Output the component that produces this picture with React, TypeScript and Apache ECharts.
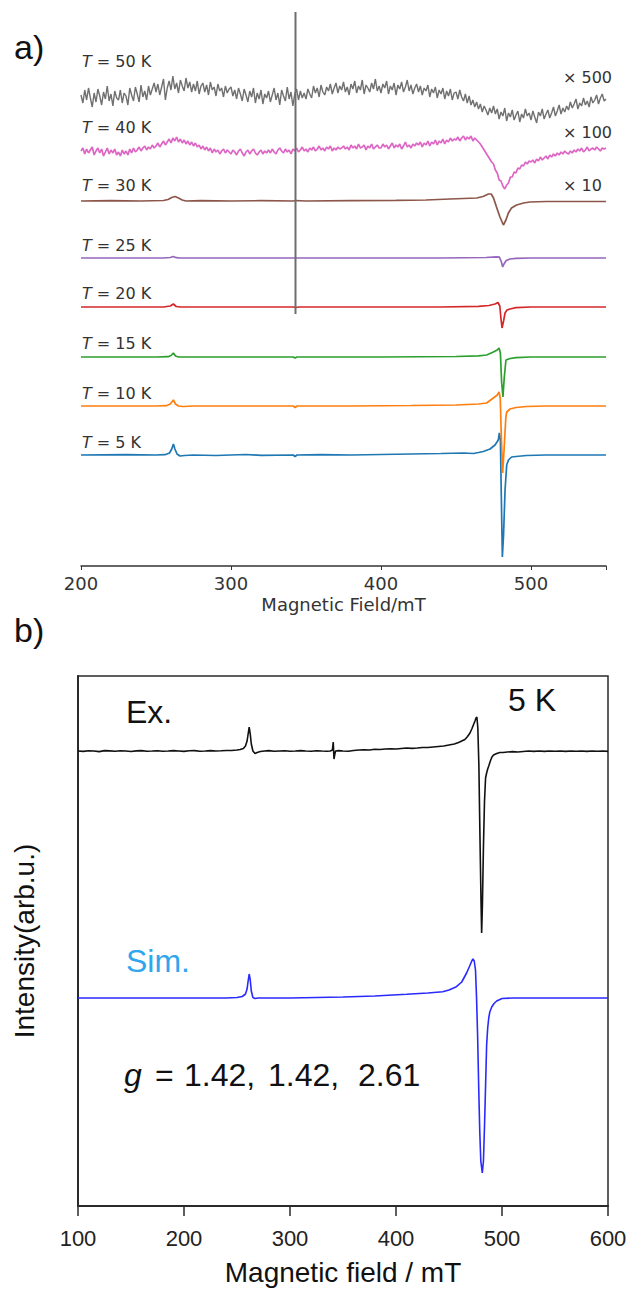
import React, { useEffect, useRef } from "react";
import * as echarts from "echarts";

const W = 631;
const H = 1291;

// ---------- Panel a: variable-temperature spectra ----------
const tempsK = [5, 10, 15, 20, 25, 30, 40, 50];
const colorsA = ["#1f77b4", "#ff7f0e", "#2ca02c", "#d62728", "#9467bd", "#8c564b", "#dd66c4", "#707070"];
const baselineA = [111, 160, 209, 259, 308, 365, 416, 469];
const gainLabels = ["", "", "", "", "", "× 10", "× 100", "× 500"];
const fieldTicksA = [200, 300, 400, 500];

// [field mT, signal relative to baseline]
const trace5K = [[200,0],[230,0.3],[250,0],[256,0.3],[259,2],[260.5,6],[261.6,11],[262.6,6],[264,1],[266,-1],[269,-0.5],[275,0],[290,-0.5],[300,0],[310,0.5],[320,-0.3],[341.5,0],[342.7,-1.5],[344,0],[360,0.3],[380,0],[400,0.5],[420,1],[440,1.5],[455,2],[461.6,1.5],[465,2.5],[468.2,3.5],[472.7,6],[476,10],[478.2,15],[478.9,22],[479.6,15],[480.2,-40],[480.9,-102],[481.7,-80],[482.7,-35],[483.8,-10],[485,-5],[487.1,-2],[490,-1.5],[497,-0.5],[510,0],[530,0],[550,0]];
const trace10K = [[200,0],[250,0],[257,0.3],[259.5,2],[261.6,6],[263,2],[265,0],[268,-0.5],[275,0],[300,0],[320,0],[341.5,0],[342.7,-1.5],[344,0],[380,0],[420,0.5],[450,1],[465,2],[470.4,3],[474.9,8],[477.5,11],[478.7,14],[479.5,8],[480.2,-30],[481.1,-67],[482,-45],[483.2,-12],[483.8,-6],[486,-3],[490,-1.5],[497,-0.5],[510,0],[550,0]];
const trace15K = [[200,0],[250,0],[258,0.3],[260,1.5],[261.6,4],[263,1],[265,0],[275,0],[341.5,0],[342.7,-1],[344,0],[400,0],[450,0.5],[465,1.2],[470.4,2],[474.9,5],[477.5,7],[478.7,9],[479.6,4],[480.4,-25],[481.3,-40],[482.2,-20],[483.3,-3],[486,-1.5],[490,-0.7],[500,0],[550,0]];
const trace20K = [[200,0],[255,0],[259.5,1],[261.6,3],[263.5,0.5],[266,0],[341.5,0],[343,-0.5],[345,0],[440,0],[465,0.7],[472,1.5],[476,3],[478,4.5],[479.2,1],[480,-12],[480.7,-21],[481.7,-14],[482.7,-6],[484,-3],[486,-2],[490,-0.7],[500,0],[550,0]];
const trace25K = [[200,0],[255,0],[259.5,0.5],[261.6,1.5],[263.5,0.3],[266,0],[440,0],[470,0.5],[477,1.2],[479,0.8],[480.3,-4],[481.1,-9],[482,-6],[483.5,-2.5],[486,-1],[490,-0.3],[500,0],[550,0]];
const trace30K = [[200,0],[220,0.3],[240,0],[255,0.5],[258,1.5],[260.5,3.5],[262.7,4.5],[265,3],[267.5,1],[270,0],[280,0.3],[300,0],[320,0.3],[341.5,0],[343,0.5],[350,0],[380,0.3],[410,0.7],[430,1],[446,2],[455,2.5],[463.8,3],[468,4.5],[471.6,7],[473.5,7],[475,3],[477,-6],[479.3,-16],[481.6,-24],[483.3,-19],[484.9,-12],[487,-7],[490.4,-4],[495,-2],[499.3,-1],[510,-0.5],[530,-0.5],[550,-0.5]];

// noisy traces sampled every 1.25 mT from 200 mT (rows of 25 mT)
const noisyStart = 200;
const noisyStep = 1.25;
const trace40K = [
  -1, 2, -4, 1, -3, 0, 3, -5, -1, 2, -3, 1, -6, -2, 2, -4, 0, -3, 1, -5,
  -2, -6, 0, -4, -1, -5, 1, -3, 2, -2, 0, 3, -1, 2, 4, 0, 3, 1, 5, 2,
  4, 7, 3, 6, 9, 5, 8, 11, 7, 12, 9, 13, 8, 11, 7, 10, 6, 9, 5, 8,
  4, 7, 3, 5, 1, 4, 0, 3, -1, 2, -3, 1, -2, 0, -4, -1, 1, -3, 0, -2,
  -4, 0, -2, -5, -1, 1, -3, -6, -2, 0, -4, -1, 1, -3, -5, -2, 0, -4, -1, -3,
  0, -3, 1, -2, -4, 0, 2, -1, -3, 1, -2, 0, -4, 1, -1, 2, -2, 0, 3, -1,
  1, -2, 2, 0, 3, -1, 1, 4, 0, 2, -1, 3, 1, 4, -1, 2, 0, 3, 1, 2,
  4, 1, 3, 0, 5, 2, 4, 1, 6, 2, 3, 5, 0, 4, 2, 6, 1, 3, 5, 2,
  2, 6, 3, 5, 1, 4, 7, 2, 5, 3, 6, 1, 4, 8, 3, 5, 2, 6, 4, 7,
  5, 8, 3, 7, 5, 9, 4, 8, 6, 10, 5, 9, 7, 11, 6, 10, 8, 12, 9, 11,
  10, 13, 9, 12, 14, 10, 13, 11, 14, 9, 12, 10, 8, 6, 3, 0, -3, -6, -9, -12,
  -14, -20, -23, -30, -31, -36, -39, -35, -33, -27, -27, -22, -23, -18, -19, -15, -16, -12, -14, -11,
  -12, -10, -13, -9, -11, -7, -10, -8, -6, -9, -5, -7, -4, -6, -3, -5, -2, -4, -1, -3,
  -4, -1, -3, 0, -2, 1, -1, 2, -2, 0, 3, -1, 1, 2, 0, 3, 1, -1, 2, 1,
  2,
];
const trace50K = [
  2, -6, 7, -3, 9, -1, -10, 4, -5, 8, 1, -8, 5, -2, 11, -4, 3, -9, 6, -1,
  -3, 7, -6, 4, 1, -8, 9, 2, -4, 10, 3, -5, 12, 0, 6, -3, 11, 2, 8, 14,
  5, 13, 2, 10, 18, -3, 9, 16, 7, 21, 8, 14, 4, 17, 11, 6, 19, 9, 15, 5,
  13, 6, 16, 3, 11, 14, 5, 12, 2, 15, 7, 10, 1, 13, 6, 9, 0, 11, 4, 8,
  10, 1, 7, -2, 9, 3, -4, 8, 2, -5, 6, 0, 9, -6, 4, -2, 7, -7, 3, -1,
  6, -5, 2, 9, -3, 4, -8, 7, 1, -4, 10, -2, 5, -9, 3, 8, -3, 6, -1, 4,
  -2, 8, 3, -1, 11, 4, 9, 0, 12, 5, 2, 10, 6, 13, 3, 9, 14, 4, 11, 7,
  15, 5, 10, 2, 13, 8, 16, 4, 11, 7, 17, 3, 12, 9, 5, 14, 8, 18, 6, 11,
  4, 13, 9, 16, 3, 11, 7, 14, 2, 12, 8, 15, 5, 10, 17, 6, 12, 3, 9, 13,
  5, 11, 2, 9, 6, 12, 0, 8, 4, 10, -1, 7, 3, 9, -2, 6, 1, 8, -3, 4,
  5, -2, 7, 0, -4, 3, -6, 1, -8, -3, -10, -5, -12, -7, -15, -9, -13, -18, -11, -16,
  -9, -17, -12, -22, -15, -19, -11, -24, -16, -20, -13, -23, -18, -14, -25, -17, -21, -12, -19, -16,
  -23, -14, -20, -26, -15, -19, -12, -22, -17, -13, -21, -16, -10, -19, -14, -8, -17, -11, -15, -9,
  -13, -5, -11, -7, -2, -12, -6, -9, -1, -8, -4, -10, 0, -6, -3, 2, -7, -1, 3, -4,
  -2,
];
const artifactFieldA = 343;
const artifactRangeA = [252, 554];

// ---------- Panel b: 5 K experiment vs simulation ----------
const fieldTicksB = [100, 200, 300, 400, 500, 600];
const exSpectrum = [[100,455],[105,454.6],[110,455.3],[115,455],[120,454.4],[125,455.4],[130,455.1],[135,454.7],[140,455.2],[145,455],[150,454.5],[155,455.1],[160,455.4],[165,454.8],[170,455],[175,455.3],[180,454.7],[185,455],[190,455.4],[195,455],[200,454.6],[205,455.2],[210,455.4],[215,454.8],[220,455],[225,455.4],[230,455],[235,455.2],[240,455.5],[245,455.5],[250,456],[253,456.5],[256,457.5],[258,460],[259.5,465],[260.5,472],[261.5,479],[262.5,472],[263.5,462],[265,455],[267,452.5],[269,453.5],[272,454.5],[276,455],[280,455.4],[285,454.7],[290,455],[295,455.3],[300,454.7],[305,455],[310,455.4],[315,455],[320,454.7],[325,455.3],[330,455],[335,454.8],[338,455],[340,456],[340.8,464],[341.5,447],[342.3,452],[343,455],[346,455.4],[350,455],[355,454.8],[360,455.5],[365,456],[370,456.3],[375,456],[380,456.8],[385,456.5],[390,457],[395,457.3],[400,457],[405,457.5],[410,458],[415,457.6],[420,458],[425,458.5],[430,458.5],[435,459],[440,459.5],[445,460],[450,461],[455,462],[459,463.5],[462,465],[465,466.5],[467.5,469.5],[469.8,473],[471.5,477],[473,481],[474.5,485],[475.5,488],[476.3,489],[477.2,478],[478.2,440],[479.2,370],[480.2,305],[480.8,273],[481.5,300],[482.5,360],[483.5,405],[484.5,428],[485.5,433],[486.5,437],[487.5,440],[489,445],[490.5,449],[492,451],[495,452.5],[498,453.5],[501,453.5],[505,454],[510,454.4],[515,454],[520,454.5],[525,455],[530,454.6],[535,455],[540,454.6],[545,455],[550,454.7],[555,455],[560,454.6],[565,455],[570,454.7],[575,455],[580,454.6],[585,455],[590,454.7],[595,455],[600,454.6]];
const simSpectrum = [[100,208],[150,208],[200,208],[240,208],[250,208.5],[255,209.5],[258,212],[259.5,217],[260.5,225],[261.5,232],[262.5,226],[263.5,215],[265,208.5],[267,207.5],[270,208],[300,208],[350,209],[380,210],[410,211.7],[430,213],[444,214.3],[450,216],[457,219.3],[462,224],[466.6,233],[469.5,240],[471.5,245],[472.6,247],[473.8,245],[475,236],[476,208],[477,170],[478,120],[479,75],[480,45],[481.4,33],[482.5,45],[483.5,80],[484.5,120],[485.5,161],[486.5,178],[487.5,188],[488.5,194],[490.3,199],[492.5,202.5],[495,205],[500,207.5],[510,208],[550,208],[600,208]];

const FA = "'DejaVu Sans', Verdana, sans-serif";
const FB = "'Liberation Sans', Arial, Helvetica, sans-serif";

function txt(x: number, y: number, text: string, size: number, family: string, fill: string, extra: any = {}) {
  return {
    type: "text",
    x,
    y,
    silent: true,
    style: {
      text,
      fill,
      fontSize: size,
      fontFamily: family,
      align: "left",
      verticalAlign: "middle",
      ...extra,
    },
  };
}

export default function App() {
  const ref = useRef<HTMLDivElement>(null);

  useEffect(() => {
    document.body.style.margin = "0";
    if (!ref.current) return;
    const chart = echarts.init(ref.current, undefined, { renderer: "svg", width: W, height: H });

    const sharpA = [trace5K, trace10K, trace15K, trace20K, trace25K, trace30K];
    const noisyA = [trace40K, trace50K];
    const widthsA = [1.7, 1.7, 1.7, 1.7, 1.7, 1.7, 1.7, 1.4];

    const seriesA = tempsK.map((t, i) => {
      let pts: number[][];
      if (i < sharpA.length) {
        pts = sharpA[i].map(([b, d]) => [b, baselineA[i] + d]);
      } else {
        pts = noisyA[i - sharpA.length].map((v, j) => [noisyStart + j * noisyStep, baselineA[i] + v]);
      }
      return {
        type: "line",
        name: `T = ${t} K`,
        xAxisIndex: 0,
        yAxisIndex: 0,
        data: pts,
        symbol: "none",
        silent: true,
        lineStyle: { color: colorsA[i], width: widthsA[i] },
      };
    });

    const artifactSeries = {
      type: "line",
      xAxisIndex: 0,
      yAxisIndex: 0,
      data: [[artifactFieldA, artifactRangeA[0]], [artifactFieldA, artifactRangeA[1]]],
      symbol: "none",
      silent: true,
      lineStyle: { color: "#6e6e6e", width: 2 },
    };

    const labelYA = [442, 393, 343, 293, 245, 185, 127, 61];
    const gainYA = [0, 0, 0, 0, 0, 185, 132, 77];

    const graphics: any[] = [];
    graphics.push(txt(14, 47, "a)", 34, FB, "#111"));
    graphics.push(txt(14, 630, "b)", 34, FB, "#111"));
    tempsK.forEach((t, i) => {
      graphics.push(
        txt(82, labelYA[i], `{i|T} = ${t} K`, 16, FA, "#333", {
          rich: { i: { fontStyle: "italic", fontSize: 16, fontFamily: FA, fill: "#333" } },
        })
      );
      if (gainLabels[i]) graphics.push(txt(563, gainYA[i], gainLabels[i], 16, FA, "#333"));
    });
    graphics.push(txt(126, 712, "Ex.", 32, FB, "#111"));
    graphics.push(txt(508, 700, "5 K", 32, FB, "#111"));
    graphics.push(txt(126, 961, "Sim.", 32, FB, "#2fa6ee"));
    graphics.push(txt(124, 1075, "g", 32, FB, "#111", { fontStyle: "italic" }));
    graphics.push(txt(155, 1075, "=", 32, FB, "#111"));
    graphics.push(txt(184, 1075, "1.42,", 32, FB, "#111"));
    graphics.push(txt(268, 1075, "1.42,", 32, FB, "#111"));
    graphics.push(txt(358, 1075, "2.61", 32, FB, "#111"));

    chart.setOption({
      animation: false,
      backgroundColor: "#ffffff",
      grid: [
        { left: 81, top: 10, width: 525, height: 556, outerBoundsMode: "none" },
        {
          left: 78,
          top: 676,
          width: 530,
          height: 530,
          show: true,
          borderColor: "#2a2a2a",
          borderWidth: 1.5,
          backgroundColor: "transparent",
          outerBoundsMode: "none",
        },
      ],
      xAxis: [
        {
          type: "value",
          gridIndex: 0,
          min: fieldTicksA[0],
          max: 550,
          interval: 100,
          name: "Magnetic Field/mT",
          nameLocation: "middle",
          nameGap: 29,
          nameTextStyle: { fontFamily: FA, fontSize: 18, color: "#333" },
          axisLine: { show: true, lineStyle: { color: "#333", width: 1.5 } },
          axisTick: { show: true, length: 4, lineStyle: { color: "#333" } },
          axisLabel: {
            fontFamily: FA,
            fontSize: 18,
            color: "#333",
            margin: 8,
            customValues: fieldTicksA,
          },
          splitLine: { show: false },
        },
        {
          type: "value",
          gridIndex: 1,
          min: fieldTicksB[0],
          max: fieldTicksB[fieldTicksB.length - 1],
          interval: 100,
          name: "Magnetic field / mT",
          nameLocation: "middle",
          nameGap: 52,
          nameTextStyle: { fontFamily: FB, fontSize: 28, color: "#111" },
          axisLine: { show: true, lineStyle: { color: "#2a2a2a", width: 2 } },
          axisTick: { show: true, length: 10, lineStyle: { color: "#2a2a2a", width: 1.5 } },
          axisLabel: { fontFamily: FB, fontSize: 22, color: "#222", margin: 21 },
          splitLine: { show: false },
        },
      ],
      yAxis: [
        { type: "value", gridIndex: 0, min: 0, max: 556, show: false },
        {
          type: "value",
          gridIndex: 1,
          min: 0,
          max: 530,
          name: "Intensity(arb.u.)",
          nameLocation: "middle",
          nameGap: 40,
          nameTextStyle: { fontFamily: FB, fontSize: 28, color: "#111" },
          axisLine: { show: true, lineStyle: { color: "#2a2a2a", width: 2 } },
          axisTick: { show: false },
          axisLabel: { show: false },
          splitLine: { show: false },
        },
      ],
      series: [
        ...seriesA,
        artifactSeries,
        {
          type: "line",
          name: "Ex.",
          xAxisIndex: 1,
          yAxisIndex: 1,
          data: exSpectrum,
          symbol: "none",
          silent: true,
          lineStyle: { color: "#111", width: 1.6 },
        },
        {
          type: "line",
          name: "Sim.",
          xAxisIndex: 1,
          yAxisIndex: 1,
          data: simSpectrum,
          symbol: "none",
          silent: true,
          lineStyle: { color: "#2a2aff", width: 1.6 },
        },
      ],
      graphic: graphics,
    });

    return () => {
      chart.dispose();
    };
  }, []);

  return <div ref={ref} style={{ width: W, height: H }} />;
}
